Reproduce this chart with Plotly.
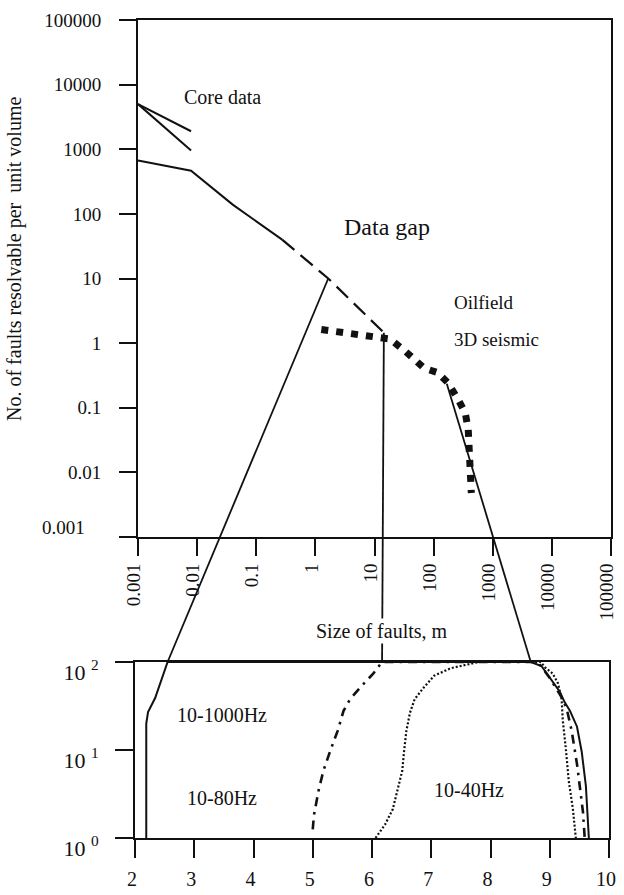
import math
import plotly.graph_objects as go

# ---------------- data ----------------
# Upper panel: number of faults resolvable per unit volume vs fault size (m)
top_tick_vals = [0.001, 0.01, 0.1, 1, 10, 100, 1000, 10000, 100000]
top_tick_text = ["0.001", "0.01", "0.1", "1", "10", "100", "1000", "10000", "100000"]

core1_x = [0.001, 0.0079]
core1_y = [5000, 1900]
core2_x = [0.001, 0.0079]
core2_y = [5000, 960]

main_solid_x = [0.001, 0.0079, 0.04, 0.274]
main_solid_y = [670, 464, 139, 40]
main_dash_x = [0.274, 1.65, 14.4]
main_dash_y = [40, 10, 1.45]

oil_x = [1.26, 10.7, 18.2, 32, 69, 117, 174, 259, 343, 385, 418, 434]
oil_y = [1.62, 1.30, 1.16, 0.77, 0.41, 0.35, 0.244, 0.135, 0.083, 0.046, 0.015, 0.0048]

# Lower panel: resolvable percentage (log) vs log fault size index
bot_tick_x = [2, 3, 4, 5, 6, 7, 8, 9, 10]
bot_tick_y = [1, 10, 100]
bot_tick_ytext = ["10 <sup>0</sup>", "10 <sup>1</sup>", "10 <sup>2</sup>"]

hz1000_x = [2.19, 2.19, 2.22, 2.34, 2.55, 8.68, 8.86, 9.0, 9.08, 9.17, 9.25, 9.34, 9.46, 9.54, 9.61, 9.64, 9.66]
hz1000_y = [1, 20, 27, 39, 100, 100, 90, 66, 57, 46, 35, 28, 18.4, 9.5, 3.9, 2.0, 1]

hz80_x = [5.0, 5.02, 5.1, 5.18, 5.3, 5.42, 5.52, 5.63, 5.85, 6.02, 6.17, 8.8, 9.0, 9.22, 9.29, 9.37, 9.46, 9.51, 9.56, 9.59]
hz80_y = [1.25, 1.82, 3.5, 5.8, 10, 16.5, 27.9, 37.8, 55.8, 73.6, 100, 100, 66, 37.8, 28.7, 16.5, 6.9, 3.9, 2.0, 1]

hz40_x = [6.06, 6.22, 6.35, 6.43, 6.51, 6.54, 6.58, 6.64, 6.72, 6.86, 7.05, 7.33, 7.63, 7.8, 8.85, 8.92, 9.05, 9.14, 9.20, 9.22, 9.27, 9.32, 9.39, 9.44]
hz40_y = [1, 1.42, 2.12, 3.5, 5.8, 9.5, 16.5, 26.4, 37.8, 50, 70, 85, 95, 100, 100, 87, 74, 57, 38, 21.7, 10.6, 4.5, 2.15, 1]

# connector lines: (upper-panel point) -> (lower-panel point)
conn_top = [(1.65, 10), (14.4, 1.45), (167, 0.235)]
conn_bot = [(2.55, 100), (6.17, 100), (8.68, 100)]

# ---------------- layout geometry ----------------
W, H = 624, 895
TOP_XD = [138 / W, 611 / W]
TOP_YD = [1 - 537 / H, 1 - 20 / H]
BOT_XD = [135 / W, 609 / W]
BOT_YD = [1 - 838 / H, 1 - 662 / H]
TOP_XR = [-3, 5]
TOP_YR = [-3, 5]
BOT_XR = [2, 10]
BOT_YR = [0, 2]

FONT = "Liberation Serif"
BLACK = "#111111"


def top_to_paper(xv, yv):
    fx = (math.log10(xv) - TOP_XR[0]) / (TOP_XR[1] - TOP_XR[0])
    fy = (math.log10(yv) - TOP_YR[0]) / (TOP_YR[1] - TOP_YR[0])
    return (TOP_XD[0] + fx * (TOP_XD[1] - TOP_XD[0]),
            TOP_YD[0] + fy * (TOP_YD[1] - TOP_YD[0]))


def bot_to_paper(xv, yv):
    fx = (xv - BOT_XR[0]) / (BOT_XR[1] - BOT_XR[0])
    fy = (math.log10(yv) - BOT_YR[0]) / (BOT_YR[1] - BOT_YR[0])
    return (BOT_XD[0] + fx * (BOT_XD[1] - BOT_XD[0]),
            BOT_YD[0] + fy * (BOT_YD[1] - BOT_YD[0]))


def px(x, y):
    return x / W, 1 - y / H


fig = go.Figure()


def add(x, y, axes, width=2, dash="solid"):
    xa, ya = axes
    fig.add_trace(go.Scatter(x=x, y=y, mode="lines", xaxis=xa, yaxis=ya,
                             line=dict(color=BLACK, width=width, dash=dash),
                             hoverinfo="skip", showlegend=False))


T = ("x", "y")
B = ("x2", "y2")
add(core1_x, core1_y, T, 2)
add(core2_x, core2_y, T, 2)
add(main_solid_x, main_solid_y, T, 2)
add(main_dash_x, main_dash_y, T, 2.2, "16px,8px")
add(oil_x, oil_y, T, 7, "7px,8px")

add(hz1000_x, hz1000_y, B, 2)
add(hz80_x, hz80_y, B, 2.6, "9px,6px,2.5px,6px")
add(hz40_x, hz40_y, B, 2.2, "2px,2px")

shapes = []
for (tx, ty), (bx, by) in zip(conn_top, conn_bot):
    x0, y0 = top_to_paper(tx, ty)
    x1, y1 = bot_to_paper(bx, by)
    shapes.append(dict(type="line", xref="paper", yref="paper", x0=x0, y0=y0, x1=x1, y1=y1,
                       line=dict(color=BLACK, width=1.8), layer="above"))

annots = []


def label(text, x, y, size=19, xanchor="center", bg=None, angle=0):
    ax, ay = px(x, y)
    d = dict(text=text, x=ax, y=ay, xref="paper", yref="paper", showarrow=False,
             xanchor=xanchor, yanchor="middle", textangle=angle,
             font=dict(family=FONT, size=size, color=BLACK))
    if bg:
        d["bgcolor"] = bg
    annots.append(d)


label("Core data", 222, 97, size=20)
label("Data gap", 387, 227, size=24)
label("Oilfield", 452, 302, size=19, xanchor="left")
label("3D seismic", 452, 339, size=19, xanchor="left")
label("Size of faults, m", 382, 631, size=20, bg="white")
label("10-1000Hz", 222, 715, size=20)
label("10-80Hz", 222, 798, size=20)
label("10-40Hz", 469, 790, size=20)
label("No. of faults resolvable per  unit volume", 14, 259, size=20, angle=-90)
label("0.001", 87, 527, xanchor="right")

axis_common = dict(showline=True, linewidth=2, linecolor=BLACK, mirror=True,
                   showgrid=False, zeroline=False, ticks="outside", tickwidth=2,
                   tickcolor=BLACK, automargin=False,
                   tickfont=dict(family=FONT, size=19, color=BLACK))

fig.update_layout(
    width=W, height=H,
    margin=dict(l=0, r=0, t=0, b=0),
    paper_bgcolor="white", plot_bgcolor="white",
    showlegend=False,
    shapes=shapes,
    annotations=annots,
    xaxis=dict(axis_common, type="log", range=TOP_XR, domain=TOP_XD, anchor="y",
               tickvals=top_tick_vals, ticktext=top_tick_text, tickangle=-90, ticklen=17,
               ticklabelshift=-4),
    yaxis=dict(axis_common, type="log", range=TOP_YR, domain=TOP_YD, anchor="x",
               tickvals=top_tick_vals, ticktext=[""] + top_tick_text[1:], ticklen=17,
               ticklabelstandoff=14),
    xaxis2=dict(axis_common, type="linear", range=BOT_XR, domain=BOT_XD, anchor="y2",
                tickvals=bot_tick_x, ticktext=[str(v) for v in bot_tick_x], ticklen=18,
                tickfont=dict(family=FONT, size=20, color=BLACK), ticklabelstandoff=4,
                ticklabelshift=-3),
    yaxis2=dict(axis_common, type="log", range=BOT_YR, domain=BOT_YD, anchor="x2",
                tickvals=bot_tick_y, ticktext=bot_tick_ytext, ticklen=18,
                tickfont=dict(family=FONT, size=22, color=BLACK),
                ticklabelstandoff=12, ticklabelshift=10),
)

fig.write_html(
    "out.html",
    config={"displayModeBar": False},
    post_script="document.body.style.margin='0';document.body.style.overflow='hidden';",
)
